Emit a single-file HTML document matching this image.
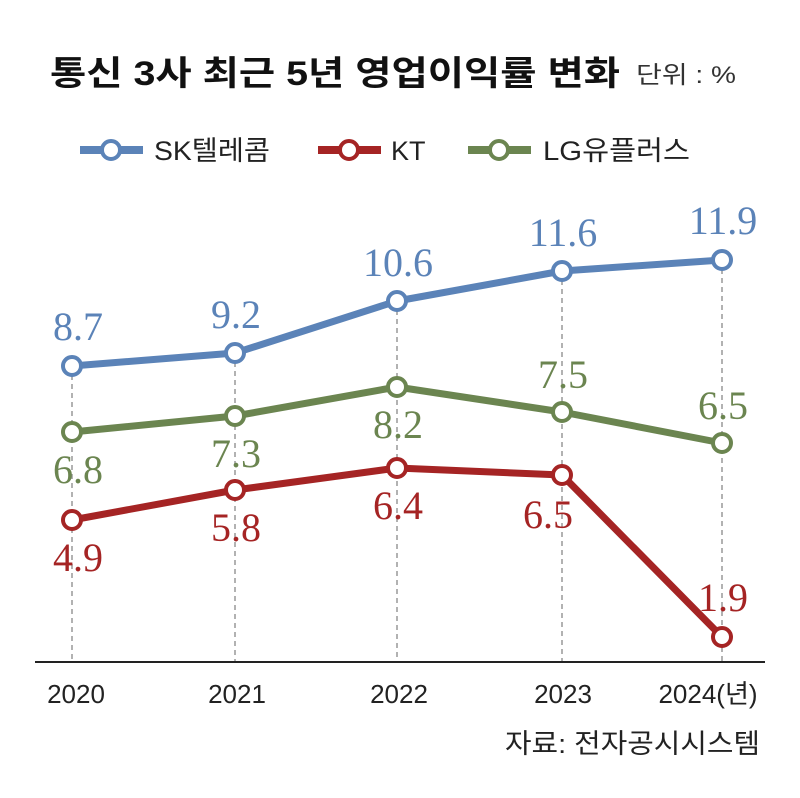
<!DOCTYPE html>
<html><head><meta charset="utf-8"><style>
body{margin:0;background:#fff;}
svg{display:block;}
.k{font-family:"Liberation Sans","Noto Sans CJK KR",sans-serif;}
.s{font-family:"Liberation Serif","Noto Serif CJK SC",serif;font-size:40px;text-anchor:middle;}
</style></head><body>
<svg width="800" height="798" viewBox="0 0 800 798">
<text x="50" y="85" class="k" font-size="34" font-weight="bold" fill="#111" textLength="570" lengthAdjust="spacingAndGlyphs">통신 3사 최근 5년 영업이익률 변화</text>
<text x="636" y="83" class="k" font-size="24" fill="#333" textLength="100" lengthAdjust="spacingAndGlyphs">단위 : %</text>
<g stroke-width="8" fill="#fff">
<line x1="80" y1="150" x2="143" y2="150" stroke="#5b83b8"/><circle cx="111" cy="150" r="9" stroke="#5b83b8" stroke-width="4"/>
<line x1="318" y1="150" x2="381" y2="150" stroke="#a52424"/><circle cx="349" cy="150" r="9" stroke="#a52424" stroke-width="4"/>
<line x1="468" y1="150" x2="531" y2="150" stroke="#6b8550"/><circle cx="499" cy="150" r="9" stroke="#6b8550" stroke-width="4"/>
</g>
<g class="k" font-size="27" fill="#222">
<text x="154" y="160" textLength="116" lengthAdjust="spacingAndGlyphs">SK텔레콤</text><text x="391" y="160">KT</text><text x="543" y="160" textLength="147" lengthAdjust="spacingAndGlyphs">LG유플러스</text>
</g>
<g stroke="#999" stroke-width="1.5" stroke-dasharray="5,4">
<line x1="72" y1="366" x2="72" y2="662"/><line x1="235" y1="353" x2="235" y2="662"/><line x1="397" y1="301" x2="397" y2="662"/><line x1="562" y1="271" x2="562" y2="662"/><line x1="722" y1="260" x2="722" y2="662"/>
</g>
<line x1="35" y1="662" x2="765" y2="662" stroke="#222" stroke-width="2"/>
<g fill="none" stroke-width="7" stroke-linejoin="round">
<polyline points="72,366 235,353 397,301 562,271 722,260" stroke="#5b83b8"/>
<polyline points="72,432 235,416 397,387 562,412 722,443" stroke="#6b8550"/>
<polyline points="72,520 235,490 397,468 562,475 722,637" stroke="#a52424"/>
</g>
<g fill="#fff" stroke-width="4">
<g stroke="#5b83b8"><circle cx="72" cy="366" r="9"/><circle cx="235" cy="353" r="9"/><circle cx="397" cy="301" r="9"/><circle cx="562" cy="271" r="9"/><circle cx="722" cy="260" r="9"/></g>
<g stroke="#6b8550"><circle cx="72" cy="432" r="9"/><circle cx="235" cy="416" r="9"/><circle cx="397" cy="387" r="9"/><circle cx="562" cy="412" r="9"/><circle cx="722" cy="443" r="9"/></g>
<g stroke="#a52424"><circle cx="72" cy="520" r="9"/><circle cx="235" cy="490" r="9"/><circle cx="397" cy="468" r="9"/><circle cx="562" cy="475" r="9"/><circle cx="722" cy="637" r="9"/></g>
</g>
<g class="s" fill="#5b83b8"><text x="78" y="340">8.7</text><text x="236" y="328">9.2</text><text x="398" y="276">10.6</text><text x="563" y="246">11.6</text><text x="723" y="234">11.9</text></g>
<g class="s" fill="#6b8550"><text x="78" y="483">6.8</text><text x="236" y="467">7.3</text><text x="398" y="438">8.2</text><text x="563" y="388">7.5</text><text x="723" y="419">6.5</text></g>
<g class="s" fill="#a52424"><text x="78" y="571">4.9</text><text x="236" y="541">5.8</text><text x="398" y="519">6.4</text><text x="548" y="528">6.5</text><text x="723" y="611">1.9</text></g>
<g class="k" font-size="26" fill="#222" text-anchor="middle">
<text x="76" y="703">2020</text><text x="237" y="703">2021</text><text x="399" y="703">2022</text><text x="563" y="703">2023</text><text x="708" y="703">2024(년)</text>
</g>
<text x="760" y="753" class="k" font-size="27" fill="#222" text-anchor="end" textLength="255" lengthAdjust="spacingAndGlyphs">자료: 전자공시시스템</text>
</svg>
</body></html>
